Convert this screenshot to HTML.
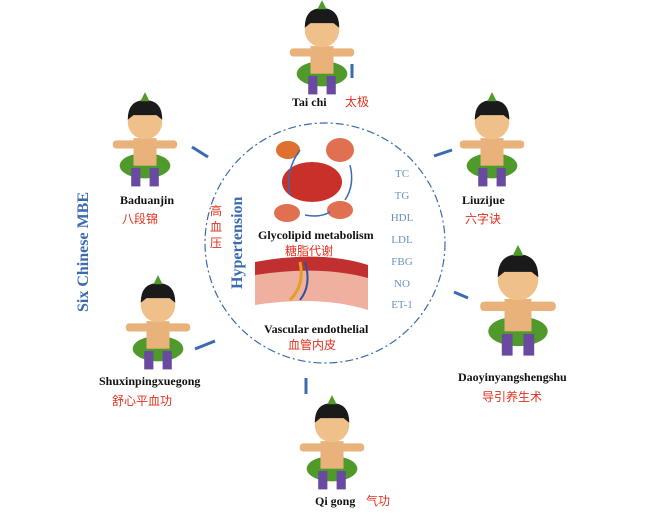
<!DOCTYPE html>
<html><head><meta charset="utf-8"><style>
body{margin:0;background:#fff;}
svg{display:block}
.en{font-family:"Liberation Serif",serif;font-weight:bold;font-size:12px;fill:#111}
.cn{font-family:"Liberation Sans","Noto Sans CJK SC",sans-serif;font-size:12px;fill:#e03020}
.bl{font-family:"Liberation Serif",serif;font-size:11px;fill:#6a90c0}
</style></head><body>
<svg width="658" height="520" viewBox="0 0 658 520" xmlns="http://www.w3.org/2000/svg">
<defs>
<g id="kid">
 <ellipse cx="0" cy="38" rx="22" ry="11" fill="#4f9a2a"/>
 <rect x="-10" y="14" width="20" height="24" fill="#e9b27a"/>
 <rect x="-28" y="16" width="56" height="7" rx="3" fill="#e9b27a"/>
 <rect x="-12" y="40" width="8" height="16" fill="#6a4aa0"/>
 <rect x="4" y="40" width="8" height="16" fill="#6a4aa0"/>
 <circle cx="0" cy="0" r="15" fill="#f0c08a"/>
 <path d="M-15,-2 Q-15,-19 0,-19 Q15,-19 15,-2 L10,-6 L-10,-6Z" fill="#1a1a1a"/>
 <path d="M-4,-18 l4,-8 l4,8z" fill="#4f9a2a"/>
</g>
</defs>
<circle cx="325" cy="243" r="120" fill="none" stroke="#3a6ab0" stroke-width="1.2" stroke-dasharray="8,3,2,3"/>
<ellipse cx="312" cy="182" rx="30" ry="20" fill="#c8302a"/>
<ellipse cx="288" cy="150" rx="12" ry="9" fill="#e07030"/>
<ellipse cx="340" cy="150" rx="14" ry="12" fill="#e07050"/>
<ellipse cx="287" cy="213" rx="13" ry="9" fill="#e07050"/>
<ellipse cx="340" cy="210" rx="13" ry="9" fill="#e07050"/>
<path d="M300,150 Q285,170 290,195 M350,165 Q355,185 345,200 M305,215 Q320,218 330,212" fill="none" stroke="#3a6ab0" stroke-width="1.5"/>
<text class="en" x="258" y="239" font-size="11">Glycolipid metabolism</text>
<text class="cn" x="285" y="255">糖脂代谢</text>
<path d="M255,262 Q320,250 368,265 L368,310 Q320,295 255,305Z" fill="#f0b0a0"/>
<path d="M255,262 Q320,250 368,265 L368,278 Q320,265 255,275Z" fill="#c03030"/>
<path d="M300,262 Q305,285 290,300" stroke="#e0a020" stroke-width="3" fill="none"/>
<path d="M305,262 Q312,285 300,300" stroke="#3050a0" stroke-width="2" fill="none"/>
<text class="en" x="264" y="333" font-size="11">Vascular endothelial</text>
<text class="cn" x="288" y="349">血管内皮</text>
<text class="cn" x="210" y="215">高</text>
<text class="cn" x="210" y="231">血</text>
<text class="cn" x="210" y="247">压</text>
<text x="242" y="289" transform="rotate(-90 242 289)" font-family="Liberation Serif,serif" font-weight="bold" font-size="16" fill="#3a6ab0">Hypertension</text>
<g class="bl" text-anchor="middle">
<text x="402" y="177">TC</text><text x="402" y="199">TG</text><text x="402" y="221">HDL</text>
<text x="402" y="243">LDL</text><text x="402" y="265">FBG</text><text x="402" y="287">NO</text><text x="402" y="308">ET-1</text>
</g>
<text x="88" y="312" transform="rotate(-90 88 312)" font-family="Liberation Serif,serif" font-weight="bold" font-size="16" fill="#3a6ab0">Six Chinese MBE</text>
<use href="#kid" transform="translate(322 30) scale(1.15)"/>
<use href="#kid" transform="translate(145 122) scale(1.15)"/>
<use href="#kid" transform="translate(492 122) scale(1.15)"/>
<use href="#kid" transform="translate(158 305) scale(1.15)"/>
<use href="#kid" transform="translate(518 280) scale(1.35)"/>
<use href="#kid" transform="translate(332 425) scale(1.15)"/>
<text class="en" x="292" y="106">Tai chi</text><text class="cn" x="345" y="106">太极</text>
<text class="en" x="120" y="204">Baduanjin</text><text class="cn" x="122" y="223">八段锦</text>
<text class="en" x="462" y="204">Liuzijue</text><text class="cn" x="465" y="223">六字诀</text>
<text class="en" x="99" y="385">Shuxinpingxuegong</text><text class="cn" x="112" y="405">舒心平血功</text>
<text class="en" x="458" y="381">Daoyinyangshengshu</text><text class="cn" x="482" y="401">导引养生术</text>
<text class="en" x="315" y="505">Qi gong</text><text class="cn" x="366" y="505">气功</text>
<g stroke="#3a6ab0" stroke-width="3" fill="none">
<path d="M352,64 v14"/><path d="M192,147 l16,10"/><path d="M452,150 l-18,6"/>
<path d="M195,349 l20,-8"/><path d="M468,298 l-14,-6"/><path d="M306,378 v16"/>
</g>
</svg>
</body></html>
